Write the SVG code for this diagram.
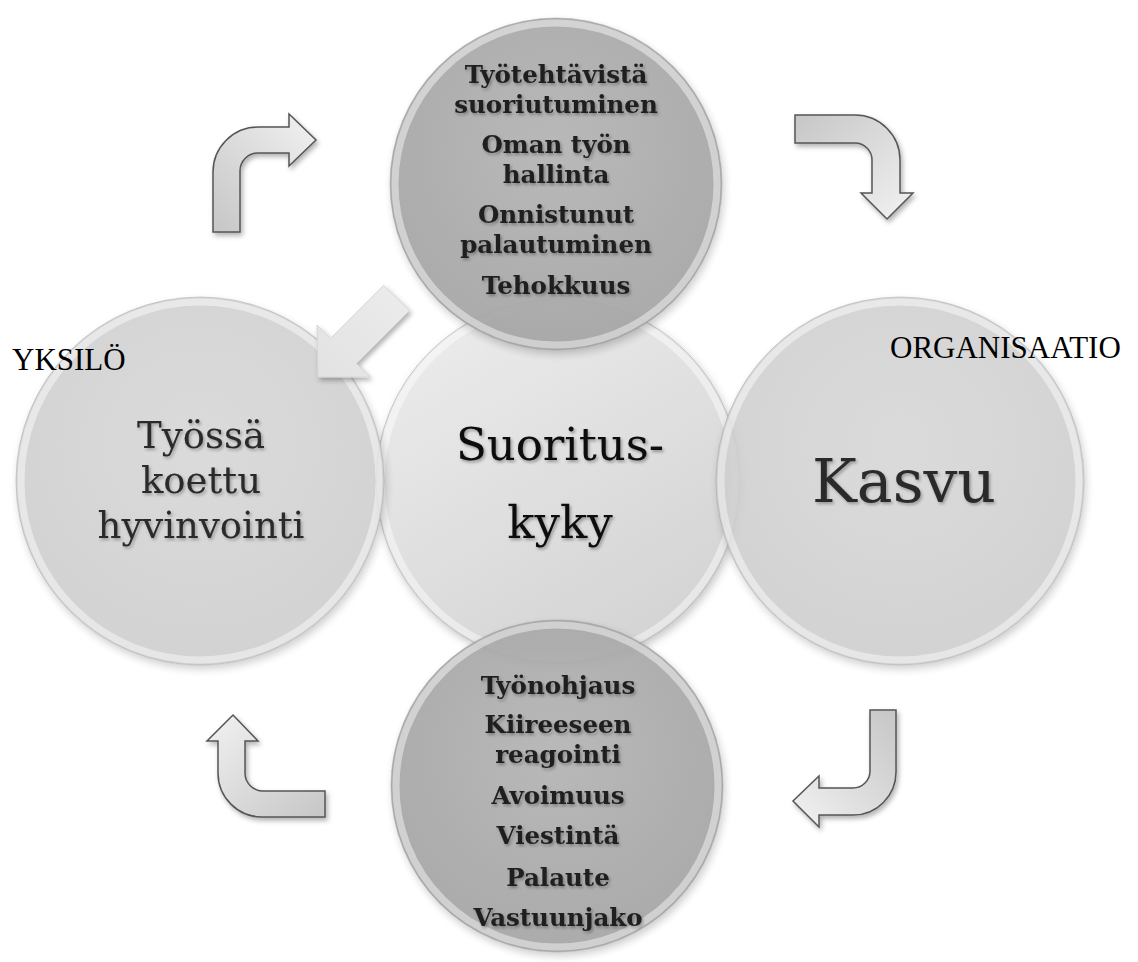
<svg xmlns="http://www.w3.org/2000/svg" width="1138" height="962" viewBox="0 0 1138 962">
<defs>
<style>
.bold{font-family:"DejaVu Serif","Liberation Serif",serif;font-weight:bold;font-size:24.5px;fill:#0a0a0a;text-anchor:middle}
.reg{font-family:"DejaVu Serif","Liberation Serif",serif;fill:#0a0a0a;text-anchor:middle}
.lbl{font-family:"Liberation Serif","Times New Roman",serif;font-size:31px;fill:#000}
.arrow{stroke:#555;stroke-width:1.5;stroke-linejoin:miter}
.rim{fill:none;stroke:#fff;stroke-opacity:.45;stroke-width:7}
.edge{fill:none;stroke:#8a8a8a;stroke-opacity:.4;stroke-width:1}
</style>
<filter id="sh" x="-20%" y="-20%" width="140%" height="140%"><feDropShadow dx="2" dy="4" stdDeviation="4" flood-color="#000" flood-opacity=".22"/></filter>
<filter id="tsh" x="-10%" y="-20%" width="120%" height="150%"><feDropShadow dx="1.5" dy="2" stdDeviation="1.5" flood-color="#000" flood-opacity=".35"/></filter>
<filter id="ash" x="-20%" y="-20%" width="150%" height="150%"><feDropShadow dx="2" dy="3" stdDeviation="2.5" flood-color="#000" flood-opacity=".3"/></filter>
<radialGradient id="gDark" cx="0.5" cy="0.4" r="0.6"><stop offset="0" stop-color="#b3b3b3"/><stop offset="1" stop-color="#a4a4a4"/></radialGradient>
<radialGradient id="gSide" cx="0.5" cy="0.4" r="0.6"><stop offset="0" stop-color="#d6d6d6"/><stop offset="1" stop-color="#cdcdcd"/></radialGradient>
<linearGradient id="gCenter" x1="0.2" y1="0" x2="0.8" y2="1"><stop offset="0" stop-color="#ececec"/><stop offset="1" stop-color="#d2d2d2"/></linearGradient>
<linearGradient id="aTL" x1="0" y1="1" x2="1" y2="0"><stop offset="0" stop-color="#c6c6c6"/><stop offset="1" stop-color="#f2f2f2"/></linearGradient>
<linearGradient id="aTR" x1="0" y1="0" x2="1" y2="1"><stop offset="0" stop-color="#c6c6c6"/><stop offset="1" stop-color="#f2f2f2"/></linearGradient>
<linearGradient id="aBR" x1="1" y1="0" x2="0" y2="1"><stop offset="0" stop-color="#c6c6c6"/><stop offset="1" stop-color="#f2f2f2"/></linearGradient>
<linearGradient id="aBL" x1="1" y1="1" x2="0" y2="0"><stop offset="0" stop-color="#c6c6c6"/><stop offset="1" stop-color="#f2f2f2"/></linearGradient>
<linearGradient id="aDiag" x1="1" y1="0" x2="0" y2="1"><stop offset="0" stop-color="#ececec"/><stop offset="1" stop-color="#e2e2e2"/></linearGradient>
</defs>
<rect width="1138" height="962" fill="#fff"/>

<g id="node-center">
<circle cx="558" cy="481" r="182" fill="url(#gCenter)" filter="url(#sh)"/>
<circle cx="558" cy="481" r="177" class="rim" stroke-opacity=".75" stroke-width="8"/>
<circle cx="558" cy="481" r="182" class="edge"/>
<g filter="url(#tsh)">
<text class="reg" x="560" y="460" font-size="45" fill="#222">Suoritus-</text>
<text class="reg" x="560" y="538" font-size="45" fill="#222">kyky</text>
</g>
</g>

<g id="node-left" opacity="0.88">
<circle cx="200" cy="481" r="184" fill="url(#gSide)" filter="url(#sh)"/>
<circle cx="200" cy="481" r="179" class="rim"/>
<circle cx="200" cy="481" r="184" class="edge"/>
<g filter="url(#tsh)">
<text class="reg" x="201" y="448" font-size="37">Työssä</text>
<text class="reg" x="201" y="493" font-size="37">koettu</text>
<text class="reg" x="201" y="538" font-size="37">hyvinvointi</text>
</g>
</g>

<g id="node-right" opacity="0.88">
<circle cx="900" cy="481" r="184" fill="url(#gSide)" filter="url(#sh)"/>
<circle cx="900" cy="481" r="179" class="rim"/>
<circle cx="900" cy="481" r="184" class="edge"/>
<text class="reg" x="904" y="502" font-size="60" filter="url(#tsh)">Kasvu</text>
</g>

<g id="node-top" opacity="0.92">
<circle cx="556" cy="184" r="166" fill="url(#gDark)" filter="url(#sh)"/>
<circle cx="556" cy="184" r="161" class="rim" stroke-opacity=".3"/>
<circle cx="556" cy="184" r="166" class="edge"/>
<g filter="url(#tsh)">
<text class="bold" x="556" y="83">Työtehtävistä</text>
<text class="bold" x="556" y="113">suoriutuminen</text>
<text class="bold" x="556" y="153">Oman työn</text>
<text class="bold" x="556" y="183">hallinta</text>
<text class="bold" x="556" y="223">Onnistunut</text>
<text class="bold" x="556" y="253">palautuminen</text>
<text class="bold" x="556" y="294">Tehokkuus</text>
</g>
</g>

<g id="node-bottom" opacity="0.92">
<circle cx="557" cy="786" r="166" fill="url(#gDark)" filter="url(#sh)"/>
<circle cx="557" cy="786" r="161" class="rim" stroke-opacity=".3"/>
<circle cx="557" cy="786" r="166" class="edge"/>
<g filter="url(#tsh)">
<text class="bold" x="558" y="694">Työnohjaus</text>
<text class="bold" x="558" y="733">Kiireeseen</text>
<text class="bold" x="558" y="763">reagointi</text>
<text class="bold" x="558" y="804">Avoimuus</text>
<text class="bold" x="558" y="844">Viestintä</text>
<text class="bold" x="558" y="886">Palaute</text>
<text class="bold" x="558" y="926">Vastuunjako</text>
</g>
</g>

<g id="connectors">
<path class="arrow" fill="url(#aTL)" filter="url(#ash)" d="M213,232 L213,172 A45,45 0 0 1 258,127 L289,127 L289,114 L316,140 L289,166 L289,153 L258,153 A18,18 0 0 0 240,171 L240,232 Z"/>
<path class="arrow" fill="url(#aTR)" filter="url(#ash)" d="M795,115 L855,115 A45,45 0 0 1 900,160 L900,193 L913,193 L887,219 L861,193 L872,193 L872,160 A17,17 0 0 0 855,143 L795,143 Z"/>
<path class="arrow" fill="url(#aBR)" filter="url(#ash)" d="M870,710 L896,710 L896,772 A43,43 0 0 1 853,815 L819,815 L819,827 L793,801 L819,776 L819,788 L853,788 A17,17 0 0 0 870,771 Z"/>
<path class="arrow" fill="url(#aBL)" filter="url(#ash)" d="M325,791 L325,817 L262,817 A44,44 0 0 1 218,773 L218,741 L207,741 L233,715 L258,741 L245,741 L245,773 A18,18 0 0 0 263,791 Z"/>
<polygon fill="url(#aDiag)" stroke="#d6d6d6" stroke-width="1" filter="url(#ash)" points="318,377 317,325 330.6,338.4 383.6,285.4 409.4,310.6 356.4,363.6 370,377"/>
</g>

<text class="lbl" x="12" y="370">YKSILÖ</text>
<text class="lbl" x="890" y="358">ORGANISAATIO</text>
</svg>
